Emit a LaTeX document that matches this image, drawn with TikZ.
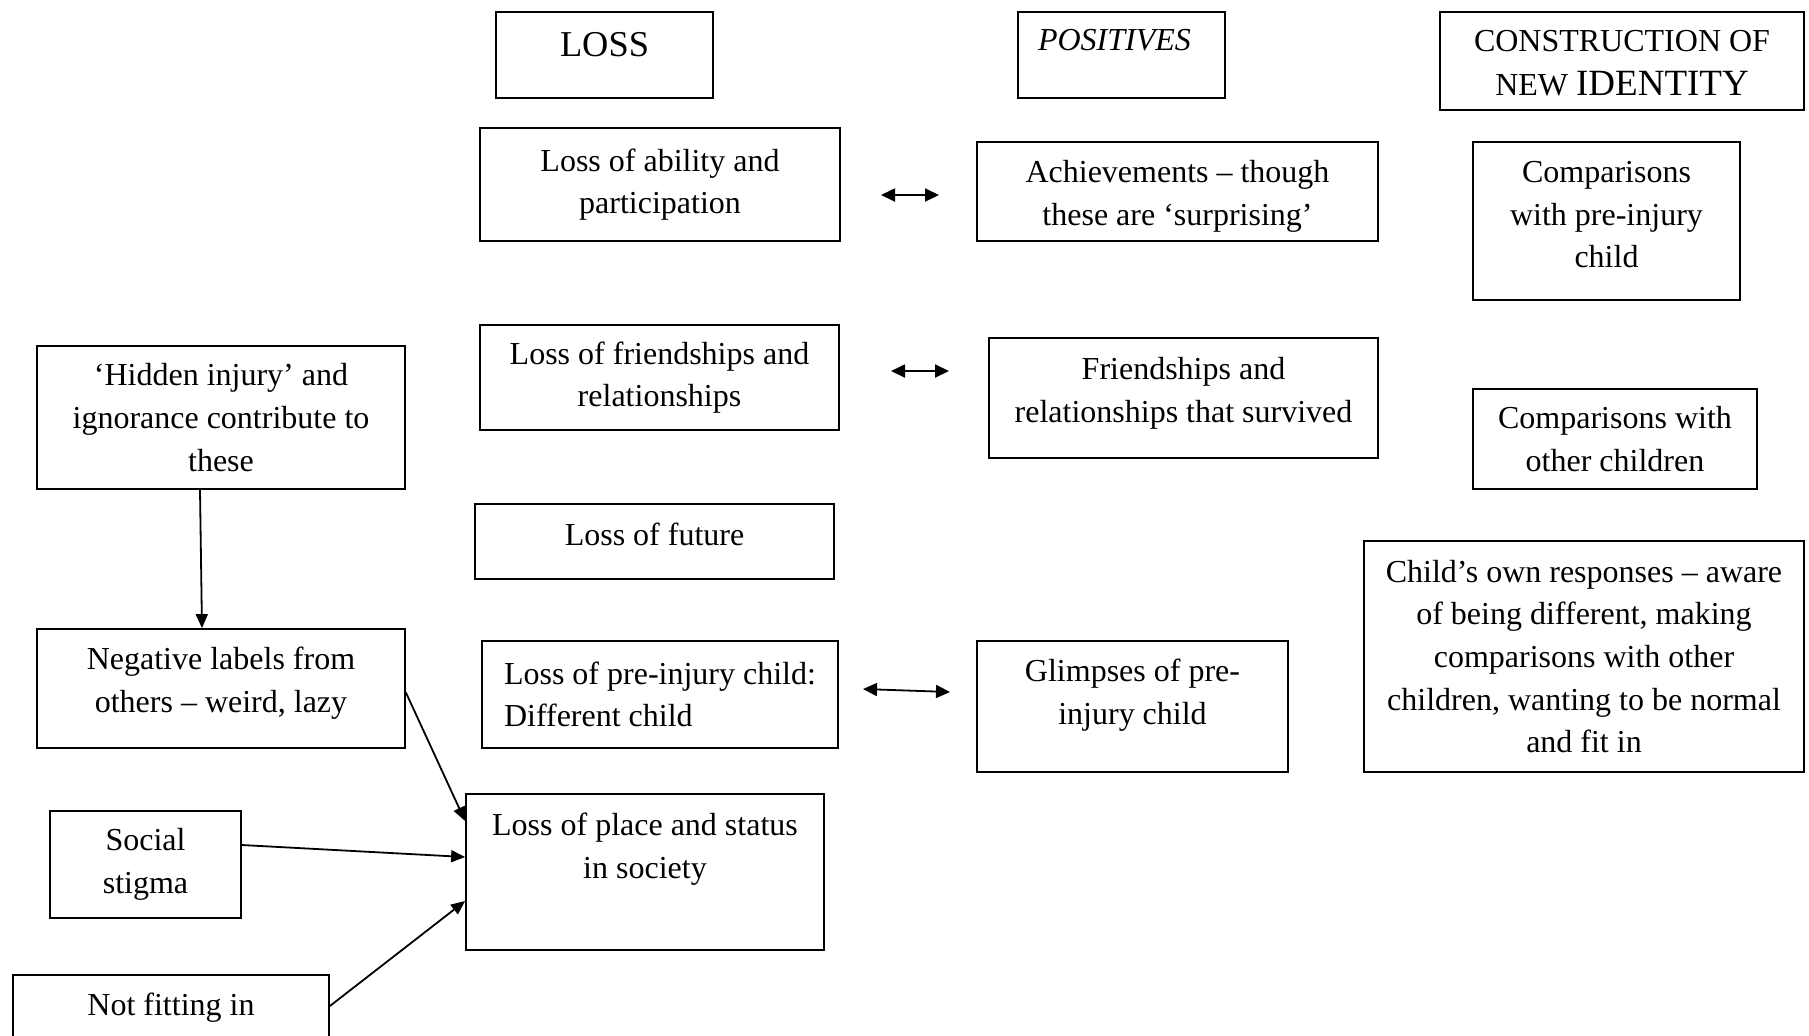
\documentclass[tikz,border=0pt]{standalone}
\usepackage{fontspec}
\setmainfont{Liberation Serif}
\usetikzlibrary{arrows.meta, calc}

\begin{document}
\begin{tikzpicture}[
  x=0.5pt, y=-0.5pt,
  box/.style={draw, line width=0.9pt, align=center, inner sep=0pt, font=\fontsize{16}{21.3}\selectfont},
  topbox/.style={box, align=flush center},
  arr/.style={-{Triangle[length=7pt,width=6pt]}, line width=0.9pt},
  dbl/.style={{Triangle[length=7pt,width=6.5pt]}-{Triangle[length=7pt,width=6.5pt]}, line width=0.9pt}
]
  \useasboundingbox (0,0) rectangle (1809,1035);

  % Column headings
  \node[box, minimum width=108.5pt, minimum height=43pt, text height=22pt, text depth=21pt] (loss) at (604.5,55) {\fontsize{18.2}{22}\selectfont LOSS};
  \node[box, minimum width=103.5pt, minimum height=43pt, text width=83.5pt, align=left, inner xsep=10pt, text height=19.3pt, text depth=23.7pt] (pos) at (1121.5,55) {\itshape POSITIVES};
  \node[topbox, minimum width=182pt, minimum height=49pt, text width=182pt, text height=19.5pt, text depth=29.5pt] (cni) at (1622,61) {CONSTRUCTION OF\\[0.7pt]NEW {\fontsize{18.5}{22}\selectfont IDENTITY}};

  % Loss column
  \node[box, minimum width=180pt, minimum height=56.5pt] (lability) at (660,184.5) {Loss of ability and\\participation};
  \node[box, minimum width=179.5pt, minimum height=52.5pt] (lfriend) at (659.5,377.5) {Loss of friendships and\\relationships};
  \node[box, minimum width=179.5pt, minimum height=37.5pt, text depth=7.5pt] (lfuture) at (654.5,541.5) {Loss of future};
  \node[box, minimum width=178pt, minimum height=53.5pt, align=left] (lchild) at (660,694.5) {Loss of pre-injury child:\\Different child};
  \node[topbox, minimum width=179pt, minimum height=78pt, text width=179pt, text height=20.75pt, text depth=57.25pt] (lplace) at (645,872) {Loss of place and status\\in society};

  % Positives column
  \node[topbox, minimum width=200.5pt, minimum height=49.5pt, text width=200.5pt, text height=20.25pt, text depth=29.25pt] (achieve) at (1177.5,191.5) {Achievements – though\\these are ‘surprising’};
  \node[topbox, minimum width=194.5pt, minimum height=60pt, text width=194.5pt, text height=20.75pt, text depth=39.25pt] (survive) at (1183.5,398) {Friendships and\\relationships that survived};
  \node[topbox, minimum width=155.5pt, minimum height=65.5pt, text width=155.5pt, text height=20.25pt, text depth=45.25pt] (glimpse) at (1132.5,706.5) {Glimpses of pre-\\injury child};

  % New identity column
  \node[topbox, minimum width=133.5pt, minimum height=79pt, text width=133.5pt, text height=20.25pt, text depth=58.75pt] (cpre) at (1606.5,221) {Comparisons\\with pre-injury\\child};
  \node[box, minimum width=142pt, minimum height=50pt] (cother) at (1615,439) {Comparisons with\\other children};
  \node[box, minimum width=220pt, minimum height=115.5pt] (cown) at (1584,656.5) {Child’s own responses – aware\\of being different, making\\comparisons with other\\children, wanting to be normal\\and fit in};

  % Contributing factors
  \node[box, minimum width=184pt, minimum height=71.5pt] (hidden) at (221,417.5) {‘Hidden injury’ and\\ignorance contribute to\\these};
  \node[topbox, minimum width=184pt, minimum height=59.5pt, text width=184pt, text height=20.25pt, text depth=39.25pt] (neglab) at (221,688.5) {Negative labels from\\others – weird, lazy};
  \node[box, minimum width=95.5pt, minimum height=53.5pt] (stigma) at (145.5,864.5) {Social\\stigma};
  \node[box, minimum width=158pt, minimum height=35pt, text height=20.25pt, text depth=14.75pt] (notfit) at (171,1010) {Not fitting in};

  % Links between loss and positives
  \coordinate (d1a) at (881,195);
  \coordinate (d1b) at (939,195);
  \coordinate (d2a) at (891,371);
  \coordinate (d2b) at (949,371);
  \coordinate (d4a) at (863,689);
  \coordinate (d4b) at (950,692);
  \draw[dbl] (d1a) -- (d1b);
  \draw[dbl] (d2a) -- (d2b);
  \draw[dbl] (d4a) -- (d4b);

  % Arrows into loss of place
  \draw[arr] ([xshift=-10.5pt]hidden.south) -- ([xshift=-9.5pt]neglab.north);
  \draw[arr] ([yshift=-2pt]neglab.east) -- ([yshift=25.5pt]lplace.west);
  \draw[arr] ([yshift=9.75pt]stigma.east) -- ([yshift=7.5pt]lplace.west);
  \draw[arr] ([yshift=2pt]notfit.east) -- ([yshift=-14.5pt]lplace.west);
\end{tikzpicture}
\end{document}
